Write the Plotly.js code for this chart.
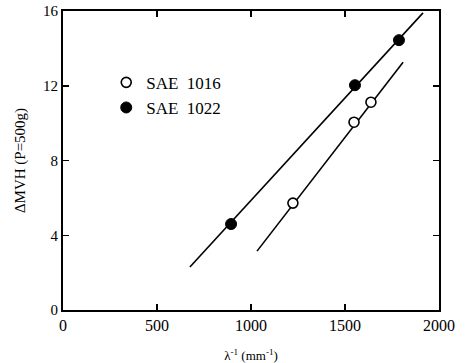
<!DOCTYPE html>
<html>
<head>
<meta charset="utf-8">
<script src="https://cdn.plot.ly/plotly-3.0.1.min.js"></script>
<style>html,body{margin:0;padding:0;background:#fff;}#chart{width:466px;height:363px;}</style>
</head>
<body>
<div id="chart"></div>
<script>
// Data
const sae1016X = [1223, 1548, 1638];
const sae1016Y = [5.72, 10.05, 11.12];
const sae1022X = [894, 1553, 1787];
const sae1022Y = [4.6, 12.03, 14.44];
// Fitted lines (end points as drawn)
const fit1016X = [1032, 1809];
const fit1016Y = [3.15, 13.26];
const fit1022X = [675, 1915];
const fit1022Y = [2.3, 15.9];
const xTicks = [0, 500, 1000, 1500, 2000];
const yTicks = [0, 4, 8, 12, 16];

const serif = "Liberation Serif, Times New Roman, serif";
const traces = [
  {x: fit1022X, y: fit1022Y, mode: 'lines', line: {color: '#000', width: 1.6}, showlegend: false, hoverinfo: 'skip'},
  {x: fit1016X, y: fit1016Y, mode: 'lines', line: {color: '#000', width: 1.6}, showlegend: false, hoverinfo: 'skip'},
  {x: sae1016X, y: sae1016Y, mode: 'markers', name: 'SAE  1016',
   marker: {symbol: 'circle', size: 10, color: '#fff', line: {color: '#000', width: 1.6}}},
  {x: sae1022X, y: sae1022Y, mode: 'markers', name: 'SAE  1022',
   marker: {symbol: 'circle', size: 11, color: '#000', line: {color: '#000', width: 1}}}
];

const layout = {
  width: 466, height: 363,
  margin: {l: 63, r: 27, t: 11, b: 53},
  paper_bgcolor: '#fff', plot_bgcolor: '#fff',
  font: {family: serif, size: 15, color: '#000'},
  showlegend: true,
  legend: {x: 0.115, y: 0.82, xanchor: 'left', yanchor: 'top', bgcolor: 'rgba(0,0,0,0)',
           font: {family: serif, size: 17, color: '#000'}, itemwidth: 30, tracegroupgap: 0},
  xaxis: {
    range: [0, 2000], tickvals: xTicks, ticktext: xTicks.map(String),
    ticks: 'inside', ticklen: 6, tickwidth: 1.5, tickcolor: '#000',
    showline: true, linecolor: '#000', linewidth: 2, mirror: 'ticks',
    showgrid: false, zeroline: false, automargin: false,
    tickfont: {family: serif, size: 16},
    title: {text: 'λ<sup>-1</sup> (mm<sup>-1</sup>)', font: {family: serif, size: 13}, standoff: 18}
  },
  yaxis: {
    range: [0, 16], tickvals: yTicks, ticktext: yTicks.map(String),
    ticks: 'inside', ticklen: 6, tickwidth: 1.5, tickcolor: '#000',
    showline: true, linecolor: '#000', linewidth: 2, mirror: 'ticks',
    showgrid: false, zeroline: false, automargin: false,
    tickfont: {family: serif, size: 15},
    title: {text: 'ΔMVH (P=500g)', font: {family: serif, size: 15}, standoff: 14}
  }
};

Plotly.newPlot('chart', traces, layout, {staticPlot: true, displayModeBar: false});
</script>
</body>
</html>
